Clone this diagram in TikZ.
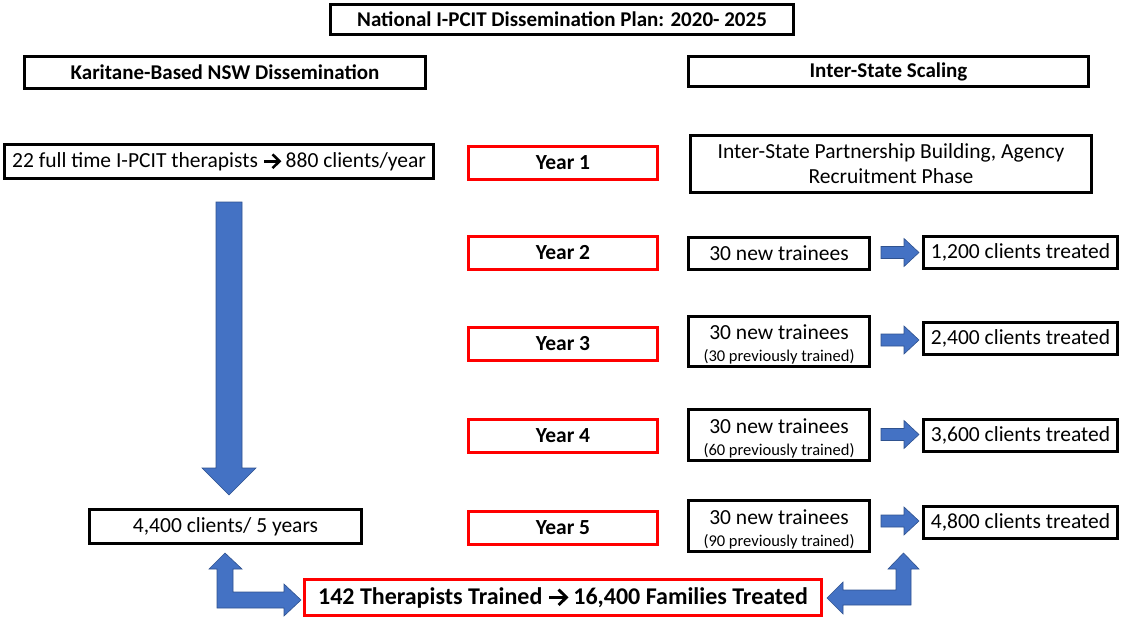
\documentclass[tikz,border=0pt]{standalone}
\usepackage{fontspec}
\setmainfont{Carlito}
\usetikzlibrary{calc}
\definecolor{boxred}{HTML}{FF0000}
\definecolor{arrblue}{HTML}{4472C4}
\definecolor{arredge}{HTML}{2F528F}
\newcommand{\rarr}{\tikz[baseline=-0.28em]{\draw[line width=0.12em,line cap=butt] (0,0) -- (0.68em,0); \draw[line width=0.12em,line join=miter,miter limit=4] (0.39em,0.32em) -- (0.72em,0) -- (0.39em,-0.32em);}}
\newcommand{\notesize}{\fontsize{16.5}{18}\selectfont}
\newcommand{\twoline}[2]{\raisebox{-4pt}[\height][\depth]{\begin{tabular}{@{}c@{}}#1\\[-3pt]{\notesize #2}\end{tabular}}}
\tikzset{
  bbox/.style={draw=black, line width=3pt, fill=white, inner sep=1pt, align=center,
    font=\fontsize{21.5}{25}\selectfont},
  rbox/.style={bbox, draw=boxred},
  hbox/.style={bbox, font=\fontsize{21}{24}\selectfont\bfseries},
  ybox/.style={rbox, font=\fontsize{21.5}{24}\selectfont\bfseries, minimum width=189pt, minimum height=33pt},
  tbox/.style={bbox, minimum width=181pt},
  cbox/.style={bbox, minimum width=194pt, minimum height=32pt},
  blockarrow/.style={fill=arrblue, draw=arredge, line width=0.6pt, line join=miter}
}
\begin{document}
\begin{tikzpicture}[x=1pt,y=-1pt]
\useasboundingbox (0,0) rectangle (1123,618);
% headers
\node[hbox, minimum width=463pt, minimum height=30pt] (title) at (562,19.5) {National I-PCIT Dissemination Plan: 2020- 2025};
\node[hbox, minimum width=401pt, minimum height=32pt] (nsw) at (225,72.5) {Karitane-Based NSW Dissemination};
\node[hbox, minimum width=400pt, minimum height=30pt] (inter) at (888.5,71.5) {Inter-State Scaling};
% left column
\node[bbox, minimum width=429pt, minimum height=34pt] (full) at (219,161.5) {22 full time I-PCIT therapists \rarr{} 880 clients/year};
\node[bbox, minimum width=272pt, minimum height=34pt] (five) at (225.5,526.5) {4,400 clients/ 5 years};
% years
\node[ybox] (y1) at (563,163) {Year 1};
\node[ybox] (y2) at (563,253) {Year 2};
\node[ybox] (y3) at (563,344) {Year 3};
\node[ybox] (y4) at (563,436) {Year 4};
\node[ybox] (y5) at (563,528) {Year 5};
% right column
\node[bbox, minimum width=401pt, minimum height=57pt, font=\fontsize{21.5}{25}\selectfont] (partner) at (891,164) {Inter-State Partnership Building, Agency\\Recruitment Phase};
\node[tbox, minimum height=32pt] (t2) at (779,253.5) {30 new trainees};
\node[tbox, minimum height=50pt] (t3) at (779,341.5) {\twoline{30 new trainees}{(30 previously trained)}};
\node[tbox, minimum height=51pt] (t4) at (779,435) {\twoline{30 new trainees}{(60 previously trained)}};
\node[tbox, minimum height=51pt] (t5) at (779,526) {\twoline{30 new trainees}{(90 previously trained)}};
\node[cbox] (c2) at (1020.5,252) {1,200 clients treated};
\node[cbox] (c3) at (1020.5,338.5) {2,400 clients treated};
\node[cbox] (c4) at (1020.5,435.5) {3,600 clients treated};
\node[cbox] (c5) at (1020.5,522) {4,800 clients treated};
% total
\node[rbox, minimum width=517pt, minimum height=36pt, font=\fontsize{24}{28}\selectfont\bfseries] (total) at (563,597.5) {142 Therapists Trained \rarr{} 16,400 Families Treated};
% big down arrow
\draw[blockarrow] (216,202) -- (242,202) -- (242,468) -- (256,468) -- (229,495) -- (202,468) -- (216,468) -- cycle;
% small right arrows
\foreach \yy in {252.5,340,434.5,521}{
  \draw[blockarrow] (881,\yy-6) -- (904,\yy-6) -- (904,\yy-14) -- (919,\yy) -- (904,\yy+14) -- (904,\yy+6) -- (881,\yy+6) -- cycle;
}
% bottom-left elbow double arrow
\draw[blockarrow] (225,553) -- (242,569) -- (233,569) -- (233,592) -- (284,592) -- (284,584) -- (301,600) -- (284,616) -- (284,608) -- (217,608) -- (217,569) -- (209,569) -- cycle;
% bottom-right elbow double arrow
\draw[blockarrow] (903.5,553) -- (919,569) -- (911,569) -- (911,605) -- (843,605) -- (843,614) -- (827,598) -- (843,582) -- (843,590) -- (896,590) -- (896,569) -- (888,569) -- cycle;
\end{tikzpicture}
\end{document}
